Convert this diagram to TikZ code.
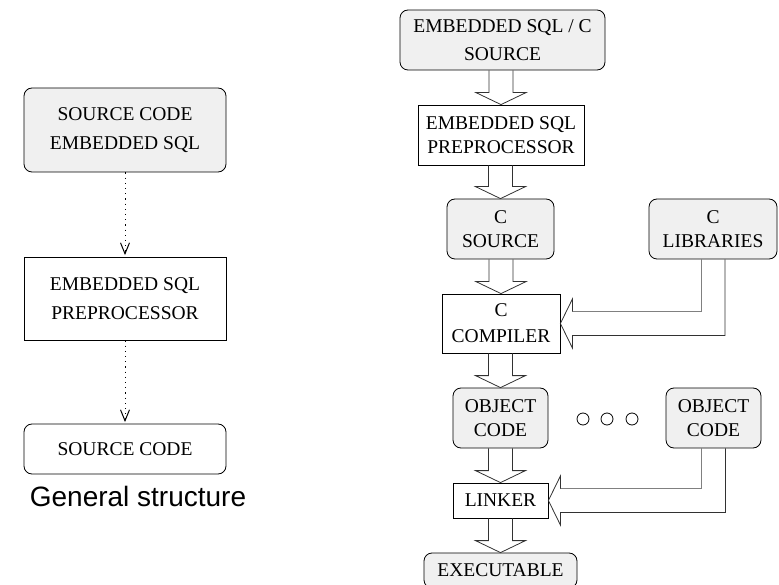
\documentclass[tikz,border=0pt]{standalone}
\usepackage{fontspec}
\setmainfont{Liberation Serif}
\newfontfamily\labelsans{Liberation Sans}
\usetikzlibrary{calc,arrows.meta}
\definecolor{boxfill}{RGB}{240,240,240}
\definecolor{shadeline}{RGB}{128,128,128}
\definecolor{arrline}{RGB}{50,50,50}
\newcommand\hollowdown[2]{%
  \draw[hollow] ($(#1.south -| #2.north)+(-12,0)$) -- ($(#2.north)+(-12,-12)$)
    -- ($(#2.north)+(-25,-12)$) -- (#2.north) -- ($(#2.north)+(25,-12)$)
    -- ($(#2.north)+(12,-12)$) -- ($(#1.south -| #2.north)+(12,0)$);}
\newcommand\hollowleft[2]{%
  \draw[hollowshade] ($(#1.south)+(-12,0)$) |- ($(#2.east)+(12,-12)$);
  \draw[hollow] ($(#2.east)+(12,-12)$) -- ($(#2.east)+(12,-24.5)$) -- (#2.east)
    -- ($(#2.east)+(12,24.5)$) -- ($(#2.east)+(12,12)$) -| ($(#1.south)+(12,0)$);}
\begin{document}
\begin{tikzpicture}[x=1pt,y=-1pt,
  box/.style={draw=black, line width=0.8pt, inner sep=0pt, align=center,
    font=\fontsize{19.5}{24}\selectfont},
  rbox/.style={box, rounded corners=8pt, fill=boxfill},
  lbox/.style={font=\fontsize{19.5}{29}\selectfont},
  hollow/.style={draw=arrline, line width=0.8pt, line join=miter},
  hollowshade/.style={draw=shadeline, line width=0.8pt},
  dotarrow/.style={line width=1pt, dash pattern=on 1.2pt off 4pt,
    -{Straight Barb[length=11pt,width=9pt,line width=1pt]}, shorten >=1.5pt},
  dot/.style={circle, draw=black, line width=0.8pt, minimum size=12pt, inner sep=0pt}]
\useasboundingbox (0,0) rectangle (779,585);
\clip (0,0) rectangle (779,585);
% left: general structure
\node[rbox, lbox, minimum width=202pt, minimum height=84pt] (l1) at (125,130) {SOURCE CODE\\EMBEDDED SQL};
\node[box, lbox, minimum width=202pt, minimum height=83pt] (l2) at (125,298.5) {EMBEDDED SQL\\PREPROCESSOR};
\node[box, rounded corners=8pt, minimum width=202pt, minimum height=50pt] (l3) at (125,449) {SOURCE CODE};
\draw[dotarrow] (l1.south) -- (l2.north);
\draw[dotarrow] (l2.south) -- (l3.north);
\node[font=\labelsans\fontsize{28}{32}\selectfont, anchor=base, inner sep=0pt] (cap) at (138,506) {General structure};
% right: C pipeline
\node[rbox, font=\fontsize{19.5}{27.5}\selectfont, minimum width=205pt, minimum height=60pt] (a) at (502.5,40) {EMBEDDED SQL / C\\SOURCE};
\node[box, minimum width=166pt, minimum height=60pt] (b) at (501,135) {EMBEDDED SQL\\PREPROCESSOR};
\node[rbox, minimum width=107pt, minimum height=60pt] (c) at (500.5,229) {C\\SOURCE};
\node[box, font=\fontsize{19.5}{26}\selectfont, minimum width=118pt, minimum height=59pt] (d) at (501,323.5) {C\\COMPILER};
\node[rbox, minimum width=128pt, minimum height=60pt] (e) at (713,229) {C\\LIBRARIES};
\node[rbox, minimum width=95pt, minimum height=60pt] (f) at (500.5,418) {OBJECT\\CODE};
\node[rbox, minimum width=95pt, minimum height=60pt] (g) at (713.5,418) {OBJECT\\CODE};
\node[box, minimum width=95pt, minimum height=35pt] (h) at (500.5,500.5) {LINKER};
\node[rbox, minimum width=153pt, minimum height=35pt] (i) at (500.5,570.5) {EXECUTABLE};
\node[dot] (c1) at (583,419) {};
\node[dot] (c2) at (607,419) {};
\node[dot] (c3) at (632,419) {};
\hollowdown{a}{b}
\hollowdown{b}{c}
\hollowdown{c}{d}
\hollowdown{d}{f}
\hollowdown{f}{h}
\hollowdown{h}{i}
\hollowleft{e}{d}
\hollowleft{g}{h}
\end{tikzpicture}
\end{document}
